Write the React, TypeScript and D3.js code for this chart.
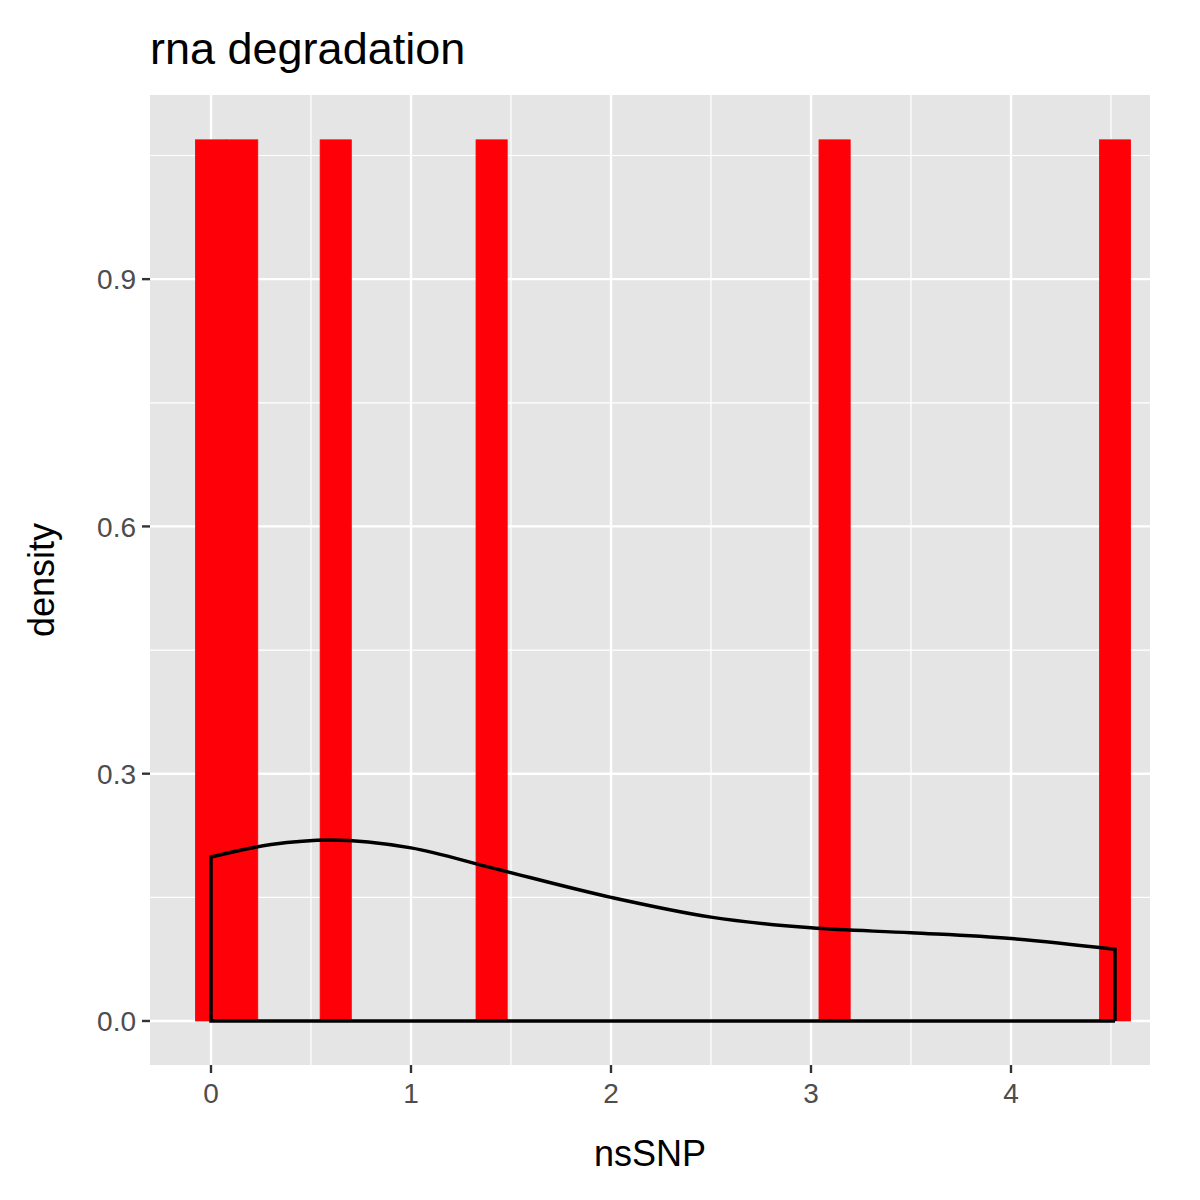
import React from 'react';
import * as d3 from 'd3';

// histogram bins (centres) with density, and the smoothed density curve
const binWidth = 0.1559;
const binCenters = [0, 0.1559, 0.6236, 1.4031, 3.1180, 4.52];
const binDensity = [1.069, 1.069, 1.069, 1.069, 1.069, 1.069];

const curveX = [0, 0.3, 0.6, 1.0, 1.4, 2.0, 2.5, 3.0, 3.5, 4.0, 4.52];
const curveY = [0.199, 0.214, 0.2196, 0.21, 0.186, 0.150, 0.126, 0.113, 0.107, 0.100, 0.087];

const xTicks = [0, 1, 2, 3, 4];
const xMinor = [0.5, 1.5, 2.5, 3.5, 4.5];
const yTicks = [0, 0.3, 0.6, 0.9];
const yMinor = [0.15, 0.45, 0.75, 1.05];

export default function App() {
  const width = 1200, height = 1200;
  const panel = { left: 150, right: 1150, top: 95, bottom: 1065 };

  const x = d3.scaleLinear().domain([-0.305, 4.695]).range([panel.left, panel.right]);
  const y = d3.scaleLinear().domain([-0.0534, 1.1234]).range([panel.bottom, panel.top]);

  const pts: [number, number][] = curveX.map((v, i) => [v, curveY[i]]);
  const line = d3.line<[number, number]>()
    .x(d => x(d[0]))
    .y(d => y(d[1]))
    .curve(d3.curveMonotoneX);
  const xEnd = curveX[curveX.length - 1];
  const closed = `M${x(xEnd)},${y(0)}L${x(0)},${y(0)}L` + line(pts)!.slice(1) + `L${x(xEnd)},${y(0)}`;

  const font = 'Liberation Sans, Arial, sans-serif';

  return (
    <svg width={width} height={height} style={{ display: 'block', margin: -8 }} fontFamily={font}>
      <rect width={width} height={height} fill="#fff" />
      <rect x={panel.left} y={panel.top} width={panel.right - panel.left} height={panel.bottom - panel.top} fill="#e5e5e5" />
      {xMinor.map(t => <line key={'xm' + t} x1={x(t)} x2={x(t)} y1={panel.top} y2={panel.bottom} stroke="#fff" strokeWidth={1.2} />)}
      {yMinor.map(t => <line key={'ym' + t} y1={y(t)} y2={y(t)} x1={panel.left} x2={panel.right} stroke="#fff" strokeWidth={1.2} />)}
      {xTicks.map(t => <line key={'xM' + t} x1={x(t)} x2={x(t)} y1={panel.top} y2={panel.bottom} stroke="#fff" strokeWidth={2.4} />)}
      {yTicks.map(t => <line key={'yM' + t} y1={y(t)} y2={y(t)} x1={panel.left} x2={panel.right} stroke="#fff" strokeWidth={2.4} />)}

      {binCenters.map((c, i) => (
        <rect key={'b' + i} x={x(c - binWidth / 2)} width={x(c + binWidth / 2) - x(c - binWidth / 2)}
          y={y(binDensity[i])} height={y(0) - y(binDensity[i])} fill="#fe0007" stroke="#fe0007" strokeWidth={0.8} />
      ))}

      <path d={closed} fill="none" stroke="#000" strokeWidth={3.5} />

      {xTicks.map(t => (
        <g key={'xt' + t}>
          <line x1={x(t)} x2={x(t)} y1={panel.bottom} y2={panel.bottom + 8} stroke="#333" strokeWidth={2.4} />
          <text x={x(t)} y={panel.bottom + 38} textAnchor="middle" fontSize={28} fill="#4d4d4d">{t}</text>
        </g>
      ))}
      {yTicks.map(t => (
        <g key={'yt' + t}>
          <line x1={panel.left - 8} x2={panel.left} y1={y(t)} y2={y(t)} stroke="#333" strokeWidth={2.4} />
          <text x={panel.left - 14} y={y(t)} dy="0.36em" textAnchor="end" fontSize={28} fill="#4d4d4d">{t.toFixed(1)}</text>
        </g>
      ))}

      <text x={(panel.left + panel.right) / 2} y={1166} textAnchor="middle" fontSize={36} fill="#000">nsSNP</text>
      <text transform={`translate(54,${(panel.top + panel.bottom) / 2}) rotate(-90)`} textAnchor="middle" fontSize={36} fill="#000">density</text>
      <text x={150} y={64} fontSize={45} fill="#000">rna degradation</text>
    </svg>
  );
}
